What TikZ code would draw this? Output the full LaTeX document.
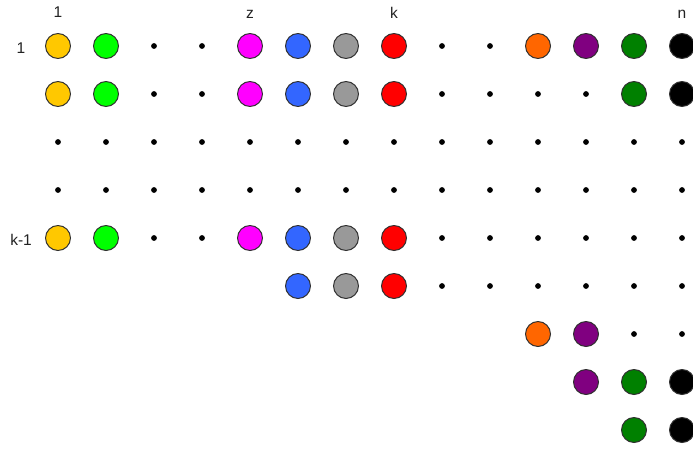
\documentclass[tikz,border=0pt]{standalone}
\usepackage{fontspec}
\setmainfont{Liberation Sans}
\usepackage{xcolor}
\definecolor{gridink}{HTML}{222222}
\definecolor{gridrim}{HTML}{303030}
\definecolor{gridyellow}{HTML}{FFC800}
\definecolor{gridgreen}{HTML}{00FF00}
\definecolor{gridmagenta}{HTML}{FF00FF}
\definecolor{gridblue}{HTML}{3366FF}
\definecolor{gridgray}{HTML}{999999}
\definecolor{gridred}{HTML}{FF0000}
\definecolor{gridorange}{HTML}{FF6600}
\definecolor{gridpurple}{HTML}{800080}
\definecolor{griddkgreen}{HTML}{008000}
\definecolor{gridblack}{HTML}{000000}

\begin{document}
\begin{tikzpicture}[
  x=1cm, y=1cm,
  ball/.style={circle, draw=gridrim, line width=0.6pt, minimum size=0.52cm, inner sep=0pt},
  pt/.style={circle, fill=black, minimum size=0.12cm, inner sep=0pt},
  lbl/.style={font=\fontsize{9.2}{11}\selectfont, text=gridink, anchor=base, inner sep=0pt},
]
\useasboundingbox (-0.2083,-0.0417) rectangle (14.2292,-9.4167);

% ===== column and row labels =====
\node[lbl] (top1) at (1,-0.40) {1};
\node[lbl] (topz) at (5,-0.43) {z};
\node[lbl] (topk) at (8,-0.43) {k};
\node[lbl] (topn) at (14,-0.43) {n};
\node[lbl] (row1) at (0.23,-1.146) {1};
\node[lbl] (rowk) at (0.23,-5.146) {k-1};

% ===== coloured balls =====
\foreach \c/\cl in {1/gridyellow,2/gridgreen,5/gridmagenta,6/gridblue,7/gridgray,
    8/gridred,11/gridorange,12/gridpurple,13/griddkgreen,14/gridblack}
  \node[ball, fill=\cl] (b1-\c) at (\c,-1) {};
\foreach \c/\cl in {1/gridyellow,2/gridgreen,5/gridmagenta,6/gridblue,7/gridgray,
    8/gridred,13/griddkgreen,14/gridblack}
  \node[ball, fill=\cl] (b2-\c) at (\c,-2) {};
\foreach \c/\cl in {1/gridyellow,2/gridgreen,5/gridmagenta,6/gridblue,7/gridgray,8/gridred}
  \node[ball, fill=\cl] (b5-\c) at (\c,-5) {};
\foreach \c/\cl in {6/gridblue,7/gridgray,8/gridred}
  \node[ball, fill=\cl] (b6-\c) at (\c,-6) {};
\foreach \c/\cl in {11/gridorange,12/gridpurple}
  \node[ball, fill=\cl] (b7-\c) at (\c,-7) {};
\foreach \c/\cl in {12/gridpurple,13/griddkgreen,14/gridblack}
  \node[ball, fill=\cl] (b8-\c) at (\c,-8) {};
\foreach \c/\cl in {13/griddkgreen,14/gridblack}
  \node[ball, fill=\cl] (b9-\c) at (\c,-9) {};

% ===== dots =====
\foreach \c in {3,4,9,10}
  \node[pt] (d1-\c) at (\c,-1) {};
\foreach \c in {3,4,9,10,11,12}
  \node[pt] (d2-\c) at (\c,-2) {};
\foreach \r in {3,4}
  \foreach \c in {1,...,14}
    \node[pt] (d\r-\c) at (\c,-\r) {};
\foreach \c in {3,4,9,10,11,12,13,14}
  \node[pt] (d5-\c) at (\c,-5) {};
\foreach \c in {9,10,11,12,13,14}
  \node[pt] (d6-\c) at (\c,-6) {};
\foreach \c in {13,14}
  \node[pt] (d7-\c) at (\c,-7) {};

\end{tikzpicture}
\end{document}
